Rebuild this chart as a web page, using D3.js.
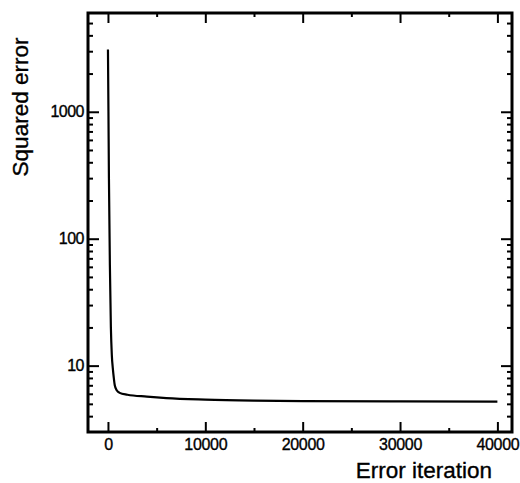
<!DOCTYPE html>
<html>
<head>
<meta charset="utf-8">
<script src="https://cdn.jsdelivr.net/npm/d3@7/dist/d3.min.js"></script>
<style>
  html, body { margin: 0; padding: 0; background: #fff; }
  svg { display: block; }
  text { font-family: "Liberation Sans", Arial, sans-serif; fill: #000; stroke: #000; stroke-width: 0.35px; }
</style>
</head>
<body>
<svg id="chart" width="520" height="483"></svg>
<script>
// Data
const iterations = [0, 50, 100, 200, 300, 400, 500, 600, 700, 900, 1200, 2000, 4000, 6000, 10000, 15000, 20000, 30000, 40000];
const squaredError = [3100, 1000, 300, 60, 20, 12, 9.5, 8, 7, 6.4, 6.1, 5.9, 5.7, 5.55, 5.4, 5.3, 5.25, 5.22, 5.2];

const xMajorTicks = [0, 10000, 20000, 30000, 40000];
const xMinorTicks = [5000, 15000, 25000, 35000];
const yMajorTicks = [10, 100, 1000];
const yMinorTicks = [4, 5, 6, 7, 8, 9, 20, 30, 40, 50, 60, 70, 80, 90,
                     200, 300, 400, 500, 600, 700, 800, 900, 2000, 3000, 4000, 5000];

const xLabel = "Error iteration";
const yLabel = "Squared error";

const pL = 88, pR = 512, pT = 13, pB = 432;

const svg = d3.select("#chart");

const x = d3.scaleLinear().domain([-2050, 41500]).range([pL, pR]);
const y = d3.scaleLog().domain([3, 6000]).range([pB, pT]);

const fmt = d3.format("d");

// Bottom axis
svg.append("g").attr("transform", `translate(0,${pB})`)
  .call(d3.axisBottom(x).tickValues(xMajorTicks).tickSize(-10).tickPadding(6).tickFormat(fmt))
  .call(g => g.select(".domain").remove())
  .call(g => g.selectAll("line").attr("stroke-width", 2))
  .call(g => g.selectAll("text").attr("font-size", 16).attr("letter-spacing", -0.3).attr("dy", "0.78em"));
svg.append("g").attr("transform", `translate(0,${pB})`)
  .call(d3.axisBottom(x).tickValues(xMinorTicks).tickSize(-4).tickFormat(""))
  .call(g => g.select(".domain").remove())
  .call(g => g.selectAll("line").attr("stroke-width", 2));

// Top axis
svg.append("g").attr("transform", `translate(0,${pT})`)
  .call(d3.axisTop(x).tickValues(xMajorTicks).tickSize(-10).tickFormat(""))
  .call(g => g.select(".domain").remove())
  .call(g => g.selectAll("line").attr("stroke-width", 2));
svg.append("g").attr("transform", `translate(0,${pT})`)
  .call(d3.axisTop(x).tickValues(xMinorTicks).tickSize(-4).tickFormat(""))
  .call(g => g.select(".domain").remove())
  .call(g => g.selectAll("line").attr("stroke-width", 2));

// Left axis
svg.append("g").attr("transform", `translate(${pL},0)`)
  .call(d3.axisLeft(y).tickValues(yMajorTicks).tickSize(-11).tickPadding(4).tickFormat(fmt))
  .call(g => g.select(".domain").remove())
  .call(g => g.selectAll("line").attr("stroke-width", 2))
  .call(g => g.selectAll("text").attr("font-size", 16).attr("letter-spacing", -0.5));
svg.append("g").attr("transform", `translate(${pL},0)`)
  .call(d3.axisLeft(y).tickValues(yMinorTicks).tickSize(-5).tickFormat(""))
  .call(g => g.select(".domain").remove())
  .call(g => g.selectAll("line").attr("stroke-width", 2));

// Right axis
svg.append("g").attr("transform", `translate(${pR},0)`)
  .call(d3.axisRight(y).tickValues(yMajorTicks).tickSize(-11).tickFormat(""))
  .call(g => g.select(".domain").remove())
  .call(g => g.selectAll("line").attr("stroke-width", 2));
svg.append("g").attr("transform", `translate(${pR},0)`)
  .call(d3.axisRight(y).tickValues(yMinorTicks).tickSize(-5).tickFormat(""))
  .call(g => g.select(".domain").remove())
  .call(g => g.selectAll("line").attr("stroke-width", 2));

// Frame
svg.append("rect")
  .attr("x", pL).attr("y", pT)
  .attr("width", pR - pL).attr("height", pB - pT)
  .attr("fill", "none").attr("stroke", "#000").attr("stroke-width", 3);

// Curve
const data = iterations.map((d, i) => ({ it: d, err: squaredError[i] }));
svg.append("path")
  .datum(data)
  .attr("fill", "none")
  .attr("stroke", "#000")
  .attr("stroke-width", 2.2)
  .attr("stroke-linejoin", "round")
  .attr("d", d3.line().x(d => x(d.it)).y(d => y(d.err)).curve(d3.curveMonotoneX));

// Axis titles
svg.append("text")
  .attr("x", 492).attr("y", 478)
  .attr("text-anchor", "end")
  .attr("font-size", 22.5)
  .text(xLabel);

svg.append("text")
  .attr("transform", "translate(28,107) rotate(-90)")
  .attr("text-anchor", "middle")
  .attr("font-size", 22.5)
  .text(yLabel);
</script>
</body>
</html>
